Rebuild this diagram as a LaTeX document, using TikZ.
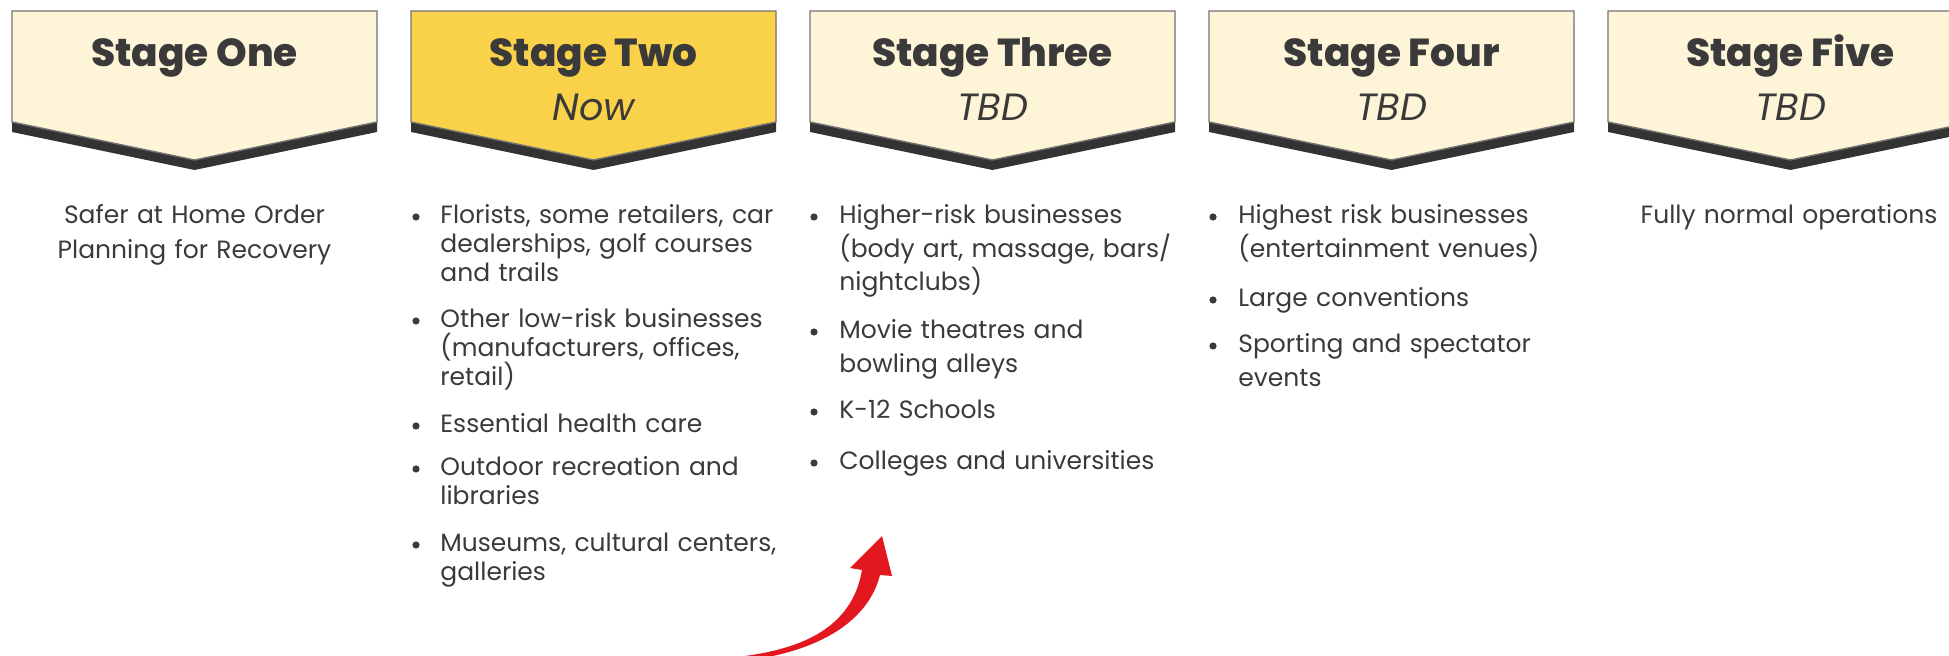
\documentclass[tikz,border=0pt]{standalone}
\usepackage{fontspec}
\setmainfont{Poppins}[BoldFont={Poppins ExtraBold}]
\usetikzlibrary{positioning}
\definecolor{cream}{HTML}{FEF4D7}
\definecolor{gold}{HTML}{FAD24A}
\definecolor{band}{HTML}{333333}
\definecolor{ink}{HTML}{3A3A3A}
\definecolor{arrowred}{HTML}{E3181F}

\begin{document}
\begin{tikzpicture}[x=0.5pt,y=-0.5pt,
  banner/.style={fill=#1,draw=black!55,line width=0.7pt},
  head/.style={font=\fontsize{19.5pt}{22pt}\selectfont\bfseries,text=ink,anchor=base,inner sep=0pt},
  sub/.style={font=\fontsize{19pt}{22pt}\selectfont\itshape,text=ink,anchor=base,inner sep=0pt},
  body/.style={font=\fontsize{12.5pt}{#1}\selectfont,text=ink,align=left,anchor=base west,inner sep=0pt,text width=200pt},
  dot/.style={circle,fill=ink,inner sep=0pt,minimum size=3.6pt}]
\useasboundingbox (0,0) rectangle (1949,656);
\clip (0,0) rectangle (1949,656);

% stage banners
\foreach \i/\col/\title/\when in {0/cream/One/,1/gold/Two/Now,2/cream/Three/TBD,3/cream/Four/TBD,4/cream/Five/TBD} {
  \begin{scope}[xshift={\i*199.5pt}]
    \fill[band] (12,21) -- (377,21) -- (377,132) -- (194.5,170) -- (12,132) -- cycle;
    \draw[banner=\col] (12,11) -- (377,11) -- (377,122) -- (194.5,160) -- (12,122) -- cycle;
    \node[head] (title\i) at (194.5,67) {Stage \title};
    \node[sub] (when\i) at (194.5,121) {\when};
  \end{scope}
}

% stage one
\node[body=17.5pt,align=center,anchor=base] (one) at (194.5,224) {Safer at Home Order\\Planning for Recovery};

% stage two
\foreach \y/\txt [count=\k] in {224/{Florists, some retailers, car\\dealerships, golf courses\\and trails},
  328/{Other low-risk businesses\\(manufacturers, offices,\\retail)},
  433/{Essential health care},
  476/{Outdoor recreation and\\libraries},
  552/{Museums, cultural centers,\\galleries}} {
  \node[dot] (dtwo\k) at (416,\y-7) {};
  \node[body=14.5pt] (two\k) at (440,\y) {\txt};
}

% stage three
\foreach \y/\txt [count=\k] in {224/{Higher-risk businesses\\(body art, massage, bars/\\nightclubs)},
  339/{Movie theatres and\\bowling alleys},
  419/{K-12 Schools},
  470/{Colleges and universities}} {
  \node[dot] (dthree\k) at (814,\y-7) {};
  \node[body=16.7pt] (three\k) at (839,\y) {\txt};
}

% stage four
\foreach \y/\txt [count=\k] in {224/{Highest risk businesses\\(entertainment venues)},
  307/{Large conventions},
  353/{Sporting and spectator\\events}} {
  \node[dot] (dfour\k) at (1213,\y-7) {};
  \node[body=16.7pt] (four\k) at (1238,\y) {\txt};
}

% stage five
\node[body=16.7pt,align=center,anchor=base] (five) at (1789,224) {Fully normal operations};

% red arrow
\fill[arrowred] (700,660) .. controls (780,656) and (850,640) .. (862,570) -- (850,568)
  -- (882,536) -- (892,576) -- (880,575) .. controls (866,630) and (800,662) .. (700,664) -- cycle;
\end{tikzpicture}
\end{document}
